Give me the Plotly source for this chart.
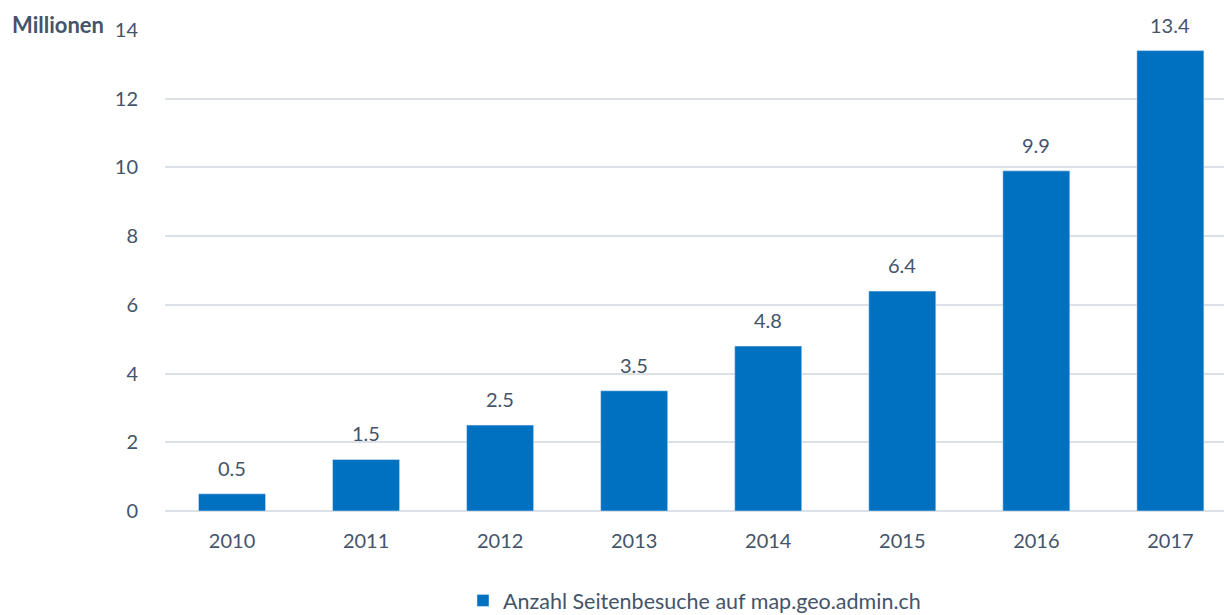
import plotly.graph_objects as go

years = ["2010", "2011", "2012", "2013", "2014", "2015", "2016", "2017"]
visits = [0.5, 1.5, 2.5, 3.5, 4.8, 6.4, 9.9, 13.4]
series_name = "Anzahl Seitenbesuche auf map.geo.admin.ch"
y_ticks = [0, 2, 4, 6, 8, 10, 12, 14]

font_color = "#44546A"
bar_color = "#0070C0"
grid_color = "#DCE1E8"
FONT = "Lato, Open Sans, sans-serif"

fig = go.Figure()
fig.add_trace(go.Bar(
    x=years, y=visits, name=series_name,
    marker=dict(color=bar_color),
    showlegend=True,
))

annotations = [dict(
    x=i, y=v, text=f"{v:.1f}", xref="x", yref="y",
    yanchor="bottom", yshift=12, showarrow=False,
    font=dict(size=20, color=font_color, family=FONT),
) for i, v in enumerate(visits)]

annotations.append(dict(
    text="<b>Millionen</b>", xref="paper", yref="paper",
    x=-0.1464, y=1.0104, xanchor="left", yanchor="middle",
    showarrow=False, font=dict(size=22, color=font_color, family=FONT),
))

fig.update_layout(
    width=1224, height=615,
    margin=dict(l=165, r=0, t=30, b=104, autoexpand=False),
    paper_bgcolor="white", plot_bgcolor="white",
    bargap=0.5,
    font=dict(family=FONT, size=20, color=font_color),
    xaxis=dict(
        type="category", range=[-0.5, 7.4],
        showgrid=False, zeroline=False, showline=False,
        ticks="outside", ticklen=12, tickcolor="rgba(0,0,0,0)",
        tickfont=dict(size=20, color=font_color),
        automargin=False,
    ),
    yaxis=dict(
        range=[0, 14], tickvals=y_ticks,
        showgrid=True, gridcolor=grid_color, gridwidth=1.5,
        zeroline=True, zerolinecolor=grid_color, zerolinewidth=1.5,
        showline=False,
        ticks="outside", ticklen=22, tickcolor="rgba(0,0,0,0)",
        tickfont=dict(size=20, color=font_color),
        automargin=False,
    ),
    legend=dict(
        orientation="h", x=0.5, xanchor="center", y=-0.186, yanchor="middle",
        font=dict(size=21.5, color=font_color),
        itemwidth=30,
    ),
    annotations=annotations,
)

fig.write_html(
    "out.html",
    config={"displayModeBar": False},
    post_script="document.body.style.margin='0';document.body.style.overflow='hidden';",
)
